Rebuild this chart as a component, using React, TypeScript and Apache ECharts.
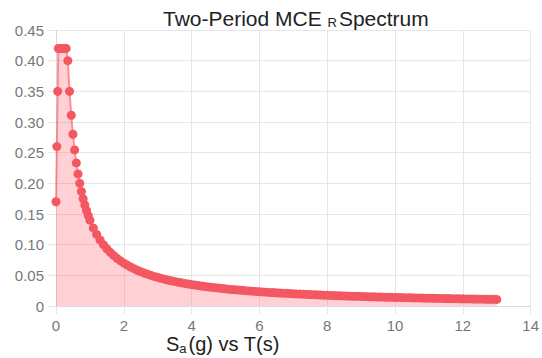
import React, { useEffect, useRef } from "react";
import * as echarts from "echarts";

const periods: number[] = [
  0, 0.025, 0.05, 0.067, 0.1, 0.15, 0.2, 0.25, 0.3, 0.35, 0.4, 0.45, 0.5, 0.55, 0.6, 0.65, 0.7, 0.75, 0.8, 0.85, 0.9, 0.95, 1.0,
  1.1, 1.2, 1.3, 1.4, 1.5, 1.6, 1.7, 1.8, 1.9, 2.0,
  2.1, 2.2, 2.3, 2.4, 2.5, 2.6, 2.7, 2.8, 2.9, 3.0,
  3.1, 3.2, 3.3, 3.4, 3.5, 3.6, 3.7, 3.8, 3.9, 4.0,
  4.1, 4.2, 4.3, 4.4, 4.5, 4.6, 4.7, 4.8, 4.9, 5.0,
  5.1, 5.2, 5.3, 5.4, 5.5, 5.6, 5.7, 5.8, 5.9, 6.0,
  6.1, 6.2, 6.3, 6.4, 6.5, 6.6, 6.7, 6.8, 6.9, 7.0,
  7.1, 7.2, 7.3, 7.4, 7.5, 7.6, 7.7, 7.8, 7.9, 8.0,
  8.1, 8.2, 8.3, 8.4, 8.5, 8.6, 8.7, 8.8, 8.9, 9.0,
  9.1, 9.2, 9.3, 9.4, 9.5, 9.6, 9.7, 9.8, 9.9, 10.0,
  10.1, 10.2, 10.3, 10.4, 10.5, 10.6, 10.7, 10.8, 10.9, 11.0,
  11.1, 11.2, 11.3, 11.4, 11.5, 11.6, 11.7, 11.8, 11.9, 12.0,
  12.1, 12.2, 12.3, 12.4, 12.5, 12.6, 12.7, 12.8, 12.9, 13.0,
];

const spectralAccel: number[] = [
  0.17, 0.26, 0.35, 0.42, 0.42, 0.42, 0.42, 0.42, 0.42, 0.4, 0.35, 0.311, 0.28, 0.2545, 0.2333, 0.2154, 0.2, 0.1867, 0.175, 0.1647, 0.1556, 0.1474, 0.14,
  0.1273, 0.1167, 0.1077, 0.1, 0.0933, 0.0875, 0.0824, 0.0778, 0.0737, 0.07,
  0.0667, 0.0636, 0.0609, 0.0583, 0.056, 0.0538, 0.0519, 0.05, 0.0483, 0.0467,
  0.0452, 0.0438, 0.0424, 0.0412, 0.04, 0.0389, 0.0378, 0.0368, 0.0359, 0.035,
  0.0341, 0.0333, 0.0326, 0.0318, 0.0311, 0.0304, 0.0298, 0.0292, 0.0286, 0.028,
  0.0275, 0.0269, 0.0264, 0.0259, 0.0255, 0.025, 0.0246, 0.0241, 0.0237, 0.0233,
  0.023, 0.0226, 0.0222, 0.0219, 0.0215, 0.0212, 0.0209, 0.0206, 0.0203, 0.02,
  0.0197, 0.0194, 0.0192, 0.0189, 0.0187, 0.0184, 0.0182, 0.0179, 0.0177, 0.0175,
  0.0173, 0.0171, 0.0169, 0.0167, 0.0165, 0.0163, 0.0161, 0.0159, 0.0157, 0.0156,
  0.0154, 0.0152, 0.0151, 0.0149, 0.0147, 0.0146, 0.0144, 0.0143, 0.0141, 0.014,
  0.0139, 0.0137, 0.0136, 0.0135, 0.0133, 0.0132, 0.0131, 0.013, 0.0128, 0.0127,
  0.0126, 0.0125, 0.0124, 0.0123, 0.0122, 0.0121, 0.012, 0.0119, 0.0118, 0.0117,
  0.0116, 0.0115, 0.0114, 0.0113, 0.0112, 0.0111, 0.011, 0.0109, 0.0109, 0.0108,
];

const FONT = "'Liberation Sans', Arial, Helvetica, sans-serif";

export default function App() {
  const ref = useRef<HTMLDivElement>(null);
  useEffect(() => {
    if (!ref.current) return;
    document.body.style.margin = "0";
    const chart = echarts.init(ref.current, undefined, { renderer: "svg" });
    const data = periods.map((t, i) => [t, spectralAccel[i]]);
    chart.setOption({
      animation: false,
      backgroundColor: "#ffffff",
      title: {
        text: "{t|Two-Period MCE }{sub|R}{t|Spectrum}",
        left: 158,
        top: 3,
        textStyle: {
          rich: {
            t: { fontFamily: FONT, fontSize: 21, color: "#222", fontWeight: "normal" },
            sub: { fontFamily: FONT, fontSize: 13, color: "#222", padding: [8, 2, 0, 0], fontWeight: "normal" },
          },
        },
      },
      graphic: [
        {
          type: "text",
          left: 166,
          top: 334,
          style: {
            text: "{s|S}{sub|a}{s|(g) vs T(s)}",
            rich: {
              s: { fontFamily: FONT, fontSize: 20, fill: "#222" },
              sub: { fontFamily: FONT, fontSize: 13, fill: "#222", padding: [8, 2, 0, 0] },
            },
          },
        },
      ],
      grid: { left: 56, right: 9, top: 30, bottom: 52, containLabel: false },
      xAxis: {
        type: "value",
        min: 0,
        max: 14,
        interval: 2,
        axisLine: { show: true, lineStyle: { color: "#d9d9d9", width: 1 } },
        axisTick: { show: true, length: 8, lineStyle: { color: "#e6e6e6" } },
        axisLabel: { color: "#777", fontFamily: FONT, fontSize: 15, margin: 12 },
        splitLine: { show: true, lineStyle: { color: "#e6e6e6", width: 1 } },
      },
      yAxis: {
        type: "value",
        min: 0,
        max: 0.45,
        interval: 0.05,
        axisLine: { show: true, lineStyle: { color: "#d9d9d9", width: 1 } },
        axisTick: { show: true, length: 8, lineStyle: { color: "#e6e6e6" } },
        axisLabel: {
          color: "#777",
          fontFamily: FONT,
          fontSize: 15,
          margin: 12,
          formatter: (v: number) => (v === 0 ? "0" : v.toFixed(2)),
        },
        splitLine: { show: true, lineStyle: { color: "#e6e6e6", width: 1 } },
      },
      series: [
        {
          type: "line",
          data,
          showAllSymbol: true,
          symbol: "circle",
          symbolSize: 9,
          itemStyle: { color: "rgb(243, 88, 98)" },
          lineStyle: { color: "rgba(243, 88, 98, 0.6)", width: 2 },
          areaStyle: { color: "rgba(255, 100, 112, 0.42)", origin: "start" },
        },
      ],
    });
    return () => chart.dispose();
  }, []);
  return <div ref={ref} style={{ position: "absolute", left: 0, top: 0, width: 542, height: 358 }} />;
}
